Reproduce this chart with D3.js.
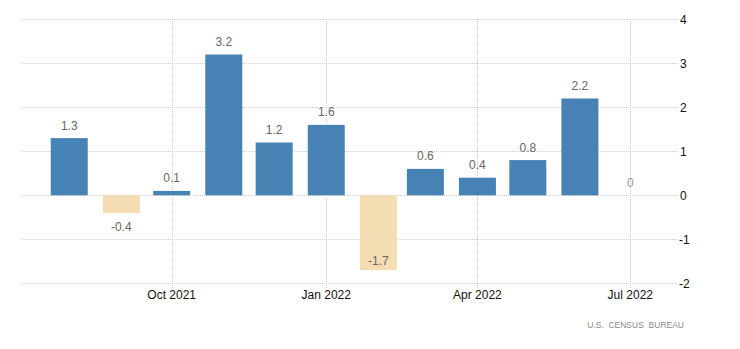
<!DOCTYPE html>
<html>
<head>
<meta charset="utf-8">
<script src="https://cdn.jsdelivr.net/npm/d3@7"></script>
<style>
  body { margin: 0; background: #fff; }
  svg { display: block; font-family: "Liberation Sans", Arial, sans-serif; }
</style>
</head>
<body>
<svg id="chart" width="740" height="349"></svg>
<script>
const months = ["2021-08","2021-09","2021-10","2021-11","2021-12","2022-01","2022-02","2022-03","2022-04","2022-05","2022-06","2022-07"];
const values = [1.3, -0.4, 0.1, 3.2, 1.2, 1.6, -1.7, 0.6, 0.4, 0.8, 2.2, 0];
const xTickDates = ["2021-10","2022-01","2022-04","2022-07"];
const yTicks = [-2, -1, 0, 1, 2, 3, 4];
const sourceText = "U.S.  CENSUS  BUREAU";

const parse = d3.timeParse("%Y-%m");
const data = months.map((m, i) => ({ date: parse(m), value: values[i] }));

const svg = d3.select("#chart");
const plotLeft = 22, plotRight = 677;

const x = d3.scaleTime()
  .domain([parse("2021-10"), parse("2022-07")])
  .range([171.7, 630.3]);
const y = d3.scaleLinear().domain([-2, 4]).range([283.3, 19.3]);

const barW = 37;

// horizontal gridlines
svg.append("g").selectAll("line").data(yTicks).join("line")
  .attr("x1", plotLeft).attr("x2", plotRight)
  .attr("y1", d => Math.round(y(d)) + 0.5).attr("y2", d => Math.round(y(d)) + 0.5)
  .attr("stroke", "#cccccc").attr("stroke-width", 1).attr("stroke-dasharray", "1,1");

// vertical gridlines
svg.append("g").selectAll("line").data(xTickDates.map(parse)).join("line")
  .attr("x1", d => Math.round(x(d)) + 0.5).attr("x2", d => Math.round(x(d)) + 0.5)
  .attr("y1", 19).attr("y2", 288)
  .attr("stroke", "#cccccc").attr("stroke-width", 1).attr("stroke-dasharray", "1,1");

// bars
svg.append("g").selectAll("rect").data(data.filter(d => d.value !== 0)).join("rect")
  .attr("x", d => x(d.date) - barW / 2)
  .attr("width", barW)
  .attr("y", d => Math.min(y(d.value), y(0)))
  .attr("height", d => Math.abs(y(d.value) - y(0)))
  .attr("fill", d => d.value >= 0 ? "#4682b4" : "#f4ddb3");

// value labels
const bottomLimit = y(-2) - 18;
svg.append("g").selectAll("text").data(data).join("text")
  .attr("x", d => x(d.date))
  .attr("y", d => d.value >= 0 ? y(d.value) - 8.5 : Math.min(y(d.value) + 18, bottomLimit))
  .attr("text-anchor", "middle")
  .attr("font-size", 12)
  .attr("fill", d => d.value === 0 ? "#999" : "#666")
  .text(d => String(d.value));

// y axis labels
svg.append("g").selectAll("text").data(yTicks).join("text")
  .attr("x", d => d < 0 ? 679 : 680)
  .attr("y", d => y(d) + 4.5)
  .attr("font-size", 12)
  .attr("fill", "#111")
  .text(d => String(d));

// x axis labels
svg.append("g").selectAll("text").data(xTickDates.map(parse)).join("text")
  .attr("x", d => x(d))
  .attr("y", 298.5)
  .attr("text-anchor", "middle")
  .attr("font-size", 12)
  .attr("fill", "#111")
  .text(d => d3.timeFormat("%b %Y")(d));

// source
svg.append("text")
  .attr("x", 684).attr("y", 327.5)
  .attr("text-anchor", "end")
  .attr("font-size", 8.5)
  .attr("fill", "#888")
  .attr("xml:space", "preserve")
  .style("white-space", "pre")
  .text(sourceText);
</script>
</body>
</html>
